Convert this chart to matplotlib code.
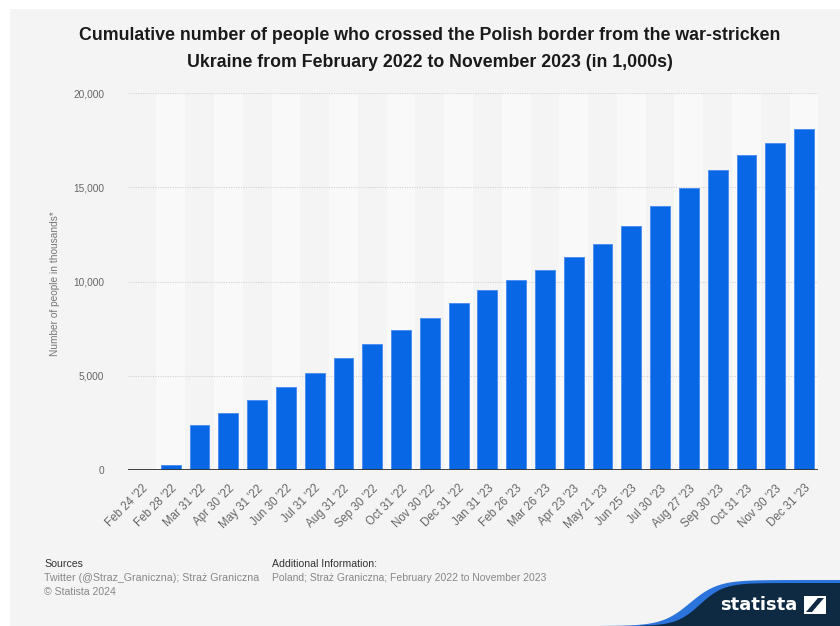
import matplotlib
matplotlib.use("Agg")
import matplotlib.pyplot as plt
from matplotlib.patches import Rectangle, Polygon
import numpy as np

plt.rcParams['font.family'] = ['Liberation Sans', 'DejaVu Sans']

# Border-crossing dates and cumulative crossings (thousands)
dates = ["Feb 24 '22", "Feb 28 '22", "Mar 31 '22", "Apr 30 '22", "May 31 '22",
         "Jun 30 '22", "Jul 31 '22", "Aug 31 '22", "Sep 30 '22", "Oct 31 '22",
         "Nov 30 '22", "Dec 31 '22", "Jan 31 '23", "Feb 26 '23", "Mar 26 '23",
         "Apr 23 '23", "May 21 '23", "Jun 25 '23", "Jul 30 '23", "Aug 27 '23",
         "Sep 30 '23", "Oct 31 '23", "Nov 30 '23", "Dec 31 '23"]
crossings = [0, 250, 2390, 3040, 3710, 4430, 5140, 5930, 6700, 7430,
             8070, 8860, 9550, 10090, 10620, 11320, 12025, 12975, 14030, 14985,
             15915, 16745, 17380, 18100]
y_ticks = [0, 5000, 10000, 15000, 20000]
y_tick_labels = ["0", "5,000", "10,000", "15,000", "20,000"]

W, H = 840, 626
fig = plt.figure(figsize=(W / 100, H / 100), dpi=100, facecolor="white")

# grey panel behind everything
fig.patches.append(Rectangle((10 / W, 0), 1 - 10 / W, 1 - 9 / H,
                             transform=fig.transFigure, facecolor="#f4f4f4",
                             edgecolor="none", zorder=-10))

ax = fig.add_axes([127.6 / W, 1 - 470 / H, 690.8 / W, (470 - 93.3) / H])
ax.set_zorder(2)
ax.set_facecolor("none")
x = np.arange(len(dates))

# alternating column bands
for i in x:
    if i % 2 == 1:
        ax.axvspan(i - 0.5, i + 0.5, color="#f9f9f9", zorder=0, lw=0)

for t in y_ticks[1:]:
    ax.axhline(t, color="#d2d2d2", lw=0.8, ls=(0, (1, 1.2)), zorder=1)

ax.bar(x, crossings, width=0.69, color="#0867e4", edgecolor="#4f8ff0",
       linewidth=0.7, zorder=2)
ax.axhline(0, color="#333333", lw=1.3, zorder=3)

ax.set_xlim(-0.5, len(dates) - 0.5)
ax.set_ylim(0, 20000)
ax.set_yticks(y_ticks)
ax.set_yticklabels(y_tick_labels)
ax.set_xticks(x)
ax.set_xticklabels(dates, rotation=45, ha="right", rotation_mode="anchor")
ax.tick_params(axis="y", length=0, pad=17, labelsize=7.3, labelcolor="#666666")
ax.tick_params(axis="x", length=0, pad=9, labelsize=8.3, labelcolor="#666666")
for s in ax.spines.values():
    s.set_visible(False)

fig.text(55 / W, 1 - 284 / H, "Number of people in thousands*", rotation=90,
         ha="center", va="center", fontsize=7.3, color="#777777")

fig.text(430 / W, 1 - 35 / H,
         "Cumulative number of people who crossed the Polish border from the war-stricken",
         ha="center", va="center", fontsize=12.8, fontweight="bold", color="#1a1a1a")
fig.text(430 / W, 1 - 62.5 / H,
         "Ukraine from February 2022 to November 2023 (in 1,000s)",
         ha="center", va="center", fontsize=12.8, fontweight="bold", color="#1a1a1a")

# footer
fig.text(44 / W, 1 - 564 / H, "Sources", fontsize=7.6, color="#333333", va="center")
fig.text(44 / W, 1 - 578 / H, "Twitter (@Straz_Graniczna); Straż Graniczna",
         fontsize=7.7, color="#888888", va="center")
fig.text(44 / W, 1 - 592 / H, "© Statista 2024", fontsize=7.6, color="#888888", va="center")
fig.text(272 / W, 1 - 564 / H, "Additional Information:", fontsize=7.6,
         color="#333333", va="center")
fig.text(272 / W, 1 - 578 / H, "Poland; Straż Graniczna; February 2022 to November 2023",
         fontsize=7.5, color="#888888", va="center")

# logo band
xs = np.linspace(600, 840, 120)
blue_top = 626 - (626 - 580) * (0.5 + 0.5 * np.tanh((xs - 690) / 28))
xn = np.linspace(640, 840, 120)
navy_top = 626 - (626 - 583) * (0.5 + 0.5 * np.tanh((xn - 700) / 24))
blue_pts = [(a / W, 1 - b / H) for a, b in zip(xs, blue_top)] + [(1, 0), (600 / W, 0)]
navy_pts = [(a / W, 1 - b / H) for a, b in zip(xn, navy_top)] + [(1, 0), (640 / W, 0)]
fig.patches.append(Polygon(blue_pts, closed=True, transform=fig.transFigure,
                           facecolor="#2b74dc", edgecolor="none", zorder=1))
fig.patches.append(Polygon(navy_pts, closed=True, transform=fig.transFigure,
                           facecolor="#0d2a42", edgecolor="none", zorder=1))
fig.text(759 / W, 1 - 605 / H, "statista", ha="center", va="center",
         fontsize=13, fontweight="bold", color="white", family="DejaVu Sans",
         zorder=5)
fig.patches.append(Rectangle((804 / W, 1 - 614 / H), 22 / W, 18 / H,
                             transform=fig.transFigure, facecolor="white",
                             edgecolor="none", zorder=4))
fig.patches.append(Polygon([(806 / W, 1 - 612 / H), (812 / W, 1 - 612 / H),
                            (824 / W, 1 - 598 / H), (818 / W, 1 - 598 / H)],
                           closed=True, transform=fig.transFigure,
                           facecolor="#0d2a42", edgecolor="none", zorder=5))

fig.savefig("out.png", dpi=100, facecolor="white")
